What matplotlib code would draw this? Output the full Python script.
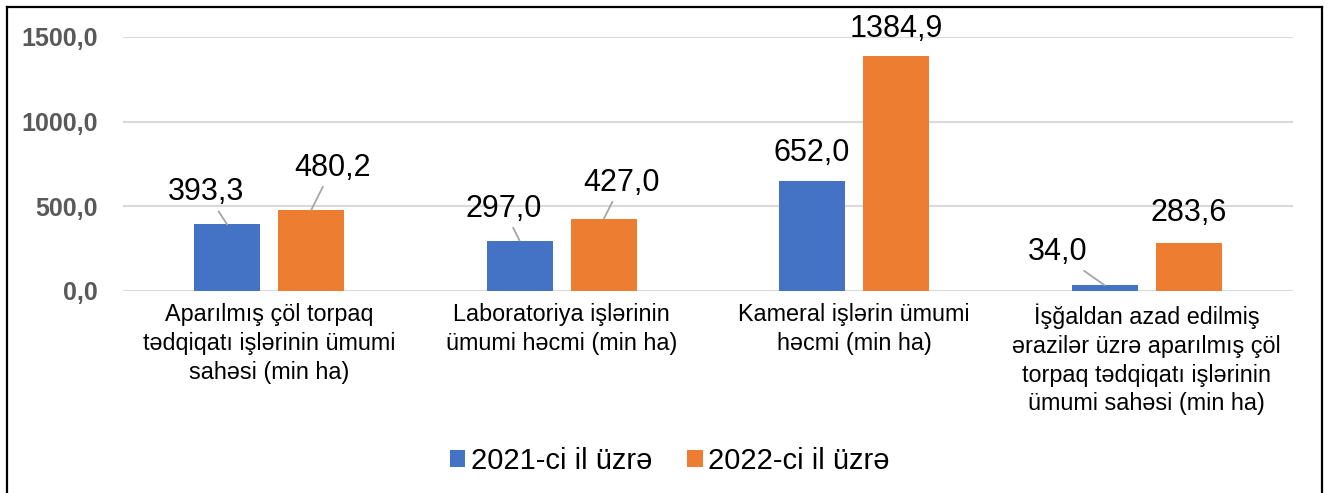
import matplotlib.pyplot as plt
import numpy as np

plt.rcParams["font.family"] = ["Liberation Sans", "DejaVu Sans"]

categories = [
    "Aparılmış çöl torpaq\ntədqiqatı işlərinin ümumi\nsahəsi (min ha)",
    "Laboratoriya işlərinin\nümumi həcmi (min ha)",
    "Kameral işlərin ümumi\nhəcmi (min ha)",
    "İşğaldan azad edilmiş\nərazilər üzrə aparılmış çöl\ntorpaq tədqiqatı işlərinin\nümumi sahəsi (min ha)",
]
values_2021 = [393.3, 297.0, 652.0, 34.0]
values_2022 = [480.2, 427.0, 1384.9, 283.6]
series_names = ["2021-ci il üzrə", "2022-ci il üzrə"]
yticks = [0, 500, 1000, 1500]

# label offsets from bar top, in pixels (dx, dy up)
offsets_2021 = [(-21, 32), (-16, 32), (0, 28), (-47, 33)]
offsets_2022 = [(21, 42), (18, 36), (0, 27), (0, 30)]

blue = "#4472c4"
orange = "#ed7d31"

fig = plt.figure(figsize=(13.3, 4.93), dpi=100)
ax = fig.add_axes([123 / 1330, 1 - 291 / 493, 1170 / 1330, 254 / 493])

x = np.arange(len(categories))
w = 0.226
off = 0.144
b1 = ax.bar(x - off, values_2021, w, color=blue, label=series_names[0], zorder=3)
b2 = ax.bar(x + off, values_2022, w, color=orange, label=series_names[1], zorder=3)

px = 0.72  # pixels -> points
for bars, vals, offs in [(b1, values_2021, offsets_2021), (b2, values_2022, offsets_2022)]:
    for bar, v, (dx, dy) in zip(bars, vals, offs):
        xc = bar.get_x() + bar.get_width() / 2
        arrow = None
        if dx != 0:
            arrow = dict(arrowstyle="-", color="#a6a6a6", lw=1.3, shrinkA=1, shrinkB=0)
        ax.annotate(f"{v:.1f}".replace(".", ","), xy=(xc, v),
                    xytext=(dx * px, dy * px), textcoords="offset points",
                    ha="center", va="center", fontsize=22, color="black",
                    arrowprops=arrow, zorder=4)

ax.set_xlim(-0.5, len(categories) - 0.5)
ax.set_ylim(0, 1500)
ax.set_yticks(yticks)
ax.set_yticklabels([f"{t:.1f}".replace(".", ",") for t in yticks],
                   fontweight="bold", color="#595959", fontsize=18)
ax.set_xticks(x)
ax.set_xticklabels(categories, fontsize=16.8, linespacing=1.32)
ax.tick_params(axis="y", length=0, pad=18)
ax.tick_params(axis="x", length=0, pad=9)
ax.grid(axis="y", color="#d9d9d9", lw=1.5, zorder=0)
for s in ax.spines.values():
    s.set_visible(False)

fig.legend(loc="center", bbox_to_anchor=(670 / 1330, 1 - 461 / 493), ncol=2,
           frameon=False, fontsize=21, handlelength=0.52, handleheight=0.52,
           handletextpad=0.2, columnspacing=1.2)

# chart border (bottom edge falls outside the picture)
x0, x1, yt = 7 / 1330, 1322 / 1330, 1 - 7 / 493
for xs, ys in [([x0, x0], [0, yt]), ([x0, x1], [yt, yt]), ([x1, x1], [yt, 0])]:
    fig.add_artist(plt.Line2D(xs, ys, color="black", lw=1.6))

fig.savefig("out.png", dpi=100)
